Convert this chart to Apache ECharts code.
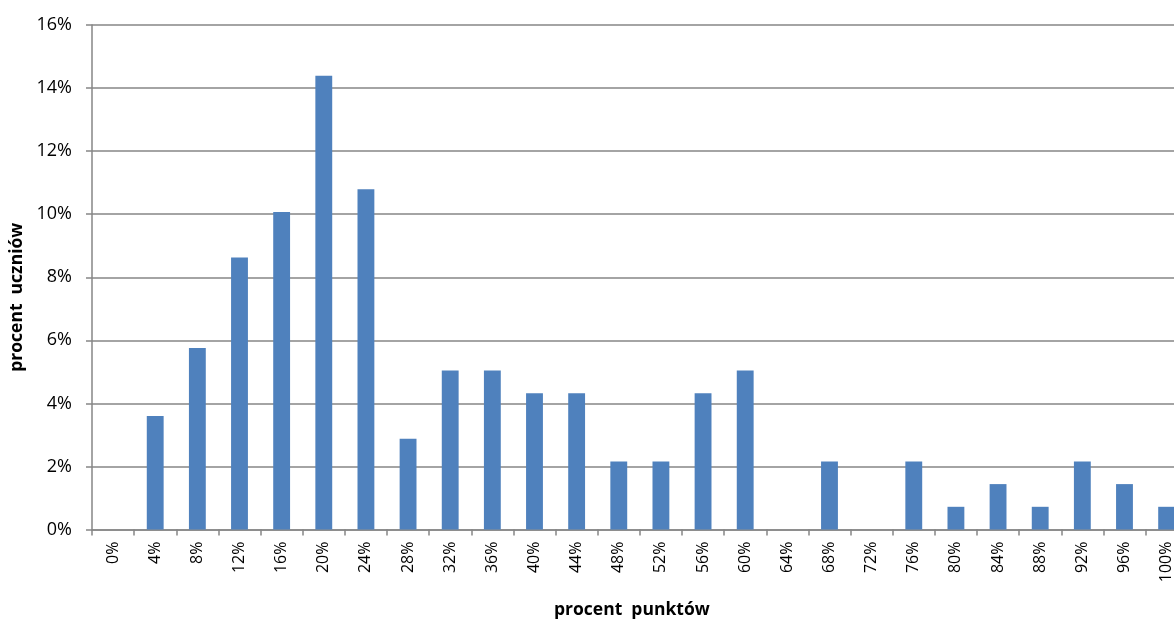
<!DOCTYPE html>
<html>
<head>
<meta charset="utf-8">
<script src="https://cdn.jsdelivr.net/npm/echarts@6/dist/echarts.min.js"></script>
<style>
  html, body { margin: 0; padding: 0; background: #fff; }
  #chart { width: 1174px; height: 622px; }
</style>
</head>
<body>
<div id="chart"></div>
<script>
// Score bins (percent of points) and share of students in each bin
const categories = ['0%','4%','8%','12%','16%','20%','24%','28%','32%','36%','40%','44%','48%','52%','56%','60%','64%','68%','72%','76%','80%','84%','88%','92%','96%','100%'];
const shares = [0, 3.60, 5.76, 8.63, 10.07, 14.39, 10.79, 2.88, 5.04, 5.04, 4.32, 4.32, 2.16, 2.16, 4.32, 5.04, 0, 2.16, 0, 2.16, 0.72, 1.44, 0.72, 2.16, 1.44, 0.72];
const yTicks = { min: 0, max: 16, step: 2 };
const xTitle = 'procent  punktów';
const yTitle = 'procent  uczniów';

const gridColor = '#868686';
const font = '"Open Sans", sans-serif';

const chart = echarts.init(document.getElementById('chart'), null, { renderer: 'canvas' });
chart.setOption({
  animation: false,
  backgroundColor: '#ffffff',
  grid: {
    left: 92, top: 25, width: 1095.7, height: 504.5,
    containLabel: false,
    outerBoundsMode: 'none'
  },
  xAxis: {
    type: 'category',
    data: categories,
    boundaryGap: true,
    axisLine: { show: true, lineStyle: { color: gridColor, width: 1.5 } },
    axisTick: { show: true, alignWithLabel: false, length: 6, lineStyle: { color: gridColor, width: 1.5 } },
    axisLabel: { rotate: 90, margin: 12, interval: 0, color: '#000', fontFamily: font, fontSize: 16 },
    name: xTitle,
    nameLocation: 'middle',
    nameGap: 72,
    nameTextStyle: { color: '#000', fontFamily: font, fontSize: 17.5, fontWeight: 'bold', padding: [0, 16, 0, 0] }
  },
  yAxis: {
    type: 'value',
    min: yTicks.min,
    max: yTicks.max,
    interval: yTicks.step,
    axisLine: { show: true, lineStyle: { color: gridColor, width: 1.5 } },
    axisTick: { show: true, length: 6, lineStyle: { color: gridColor, width: 1.5 } },
    axisLabel: { formatter: '{value}%', margin: 20, color: '#000', fontFamily: font, fontSize: 18 },
    splitLine: { show: true, lineStyle: { color: gridColor, width: 1.5 } },
    name: yTitle,
    nameLocation: 'middle',
    nameGap: 58,
    nameTextStyle: { color: '#000', fontFamily: font, fontSize: 17.5, fontWeight: 'bold', padding: [0, 40, 0, 0] }
  },
  series: [{
    type: 'bar',
    data: shares,
    barWidth: '40%',
    itemStyle: { color: '#4F81BD' }
  }]
});
</script>
</body>
</html>
